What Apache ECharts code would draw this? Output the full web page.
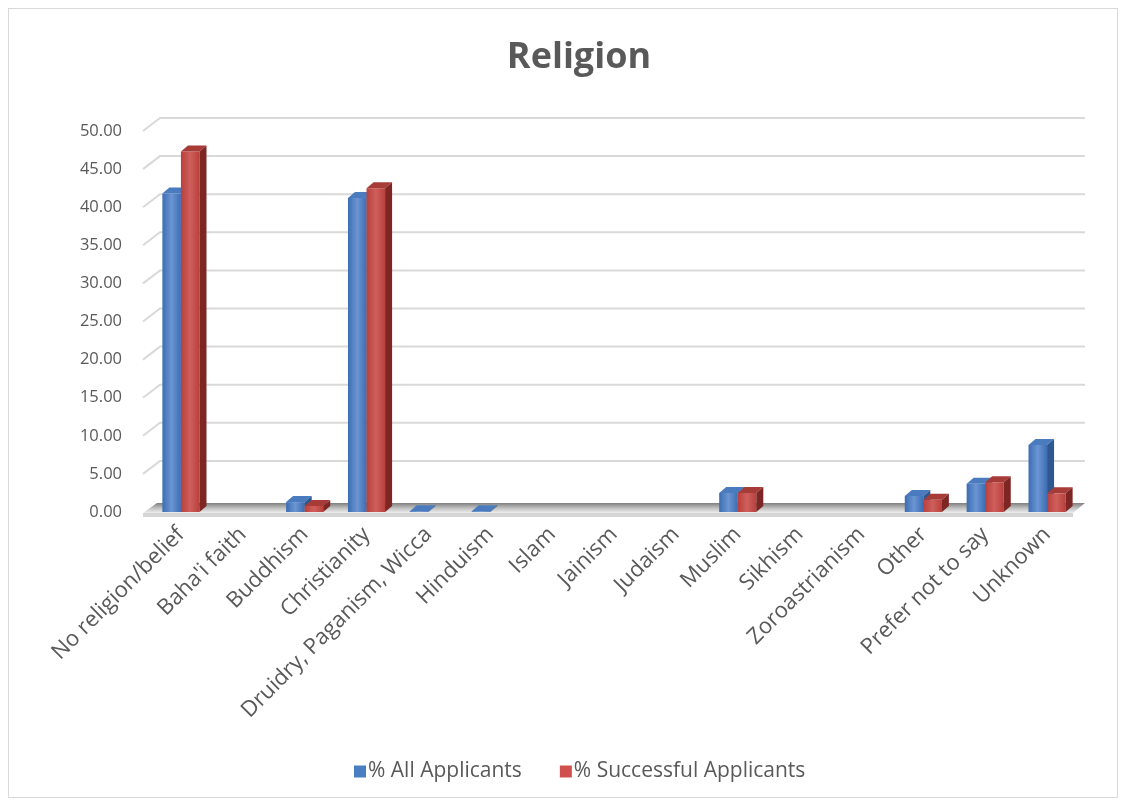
<!DOCTYPE html>
<html>
<head>
<meta charset="utf-8">
<script src="https://cdn.jsdelivr.net/npm/echarts@6/dist/echarts.min.js"></script>
<style>
html,body{margin:0;padding:0;background:#fff;}
#wrap{position:absolute;left:8px;top:8px;width:1110px;height:790px;border:1px solid #D9D9D9;box-sizing:border-box;}
#chart{position:absolute;left:0;top:0;width:1126px;height:806px;}
</style>
</head>
<body>
<div id="wrap"></div>
<div id="chart"></div>
<script>
const categories = ["No religion/belief","Baha'i faith","Buddhism","Christianity","Druidry, Paganism, Wicca","Hinduism","Islam","Jainism","Judaism","Muslim","Sikhism","Zoroastrianism","Other","Prefer not to say","Unknown"];
const allApplicants = [41.8, 0, 1.3, 41.2, 0.1, 0.1, 0, 0, 0, 2.5, 0, 0, 2.1, 3.7, 8.8];
const successfulApplicants = [47.3, 0, 0.8, 42.5, 0, 0, 0, 0, 0, 2.5, 0, 0, 1.6, 3.9, 2.45];
const yTicks = {min: 0, max: 50, interval: 5};
const gridTickValues = [5, 10, 15, 20, 25, 30, 35, 40, 45, 50];
const seriesNames = ["% All Applicants", "% Successful Applicants"];

const palette = [
  {front: ['#6B95D2', '#3C6DB3'], top: '#4A7BBE', side: '#2E5890', legend: '#4A7EC2'},
  {front: ['#CF5F5C', '#B8403C'], top: '#A63B38', side: '#7E2623', legend: '#D0504D'}
];
const DX = 7, DY = -6;

function makeRender(si) {
  return function (params, api) {
    const idx = api.value(0), v = api.value(1);
    if (!(v > 0)) return null;
    const base = api.coord([idx, 0]);
    const top = api.coord([idx, v]);
    const band = api.size([1, 0])[0];
    const w = band * 0.3;
    const x0 = base[0] + (si === 0 ? -w : 0);
    const h = base[1] - top[1];
    const c = palette[si];
    return {
      type: 'group',
      children: [
        {type: 'rect', shape: {x: x0, y: top[1], width: w, height: h},
          style: {fill: new echarts.graphic.LinearGradient(0, 0, 1, 0, [
            {offset: 0, color: c.front[1]}, {offset: 0.5, color: c.front[0]}, {offset: 1, color: c.front[1]}])}},
        {type: 'polygon', shape: {points: [[x0, top[1]], [x0 + DX, top[1] + DY], [x0 + w + DX, top[1] + DY], [x0 + w, top[1]]]},
          style: {fill: c.top}},
        {type: 'polygon', shape: {points: [[x0 + w, top[1]], [x0 + w + DX, top[1] + DY], [x0 + w + DX, base[1] + DY], [x0 + w, base[1]]]},
          style: {fill: c.side}}
      ]
    };
  };
}

function plotEdges(api, v) {
  const band = api.size([1, 0])[0];
  const a = api.coord([0, v]);
  const b = api.coord([categories.length - 1, v]);
  return {xl: a[0] - band / 2, xr: b[0] + band / 2, y: a[1]};
}

function gridRender(params, api) {
  const e = plotEdges(api, api.value(0));
  return {
    type: 'polyline',
    shape: {points: [[e.xl - 7, e.y], [e.xl + 10, e.y - 13], [e.xr + 7, e.y - 13]]},
    style: {stroke: '#D9D9D9', lineWidth: 2, fill: null}
  };
}

function floorRender(params, api) {
  const e = plotEdges(api, 0);
  const y = e.y;
  return {
    type: 'group',
    children: [
      {type: 'polygon', shape: {points: [[e.xl - 7, y + 1], [e.xl + 7, y - 9], [e.xr + 7, y - 9], [e.xr - 5, y + 1]]},
        style: {fill: new echarts.graphic.LinearGradient(0, 0, 0, 1, [
          {offset: 0, color: '#7F7F7F'}, {offset: 0.5, color: '#BFBFBF'}, {offset: 1, color: '#EEEEEE'}])}},
      {type: 'polygon', shape: {points: [[e.xl - 7, y + 1], [e.xr - 5, y + 1], [e.xr - 5, y + 5], [e.xl - 7, y + 5]]},
        style: {fill: '#D6D6D6'}}
    ]
  };
}

const chart = echarts.init(document.getElementById('chart'));
chart.setOption({
  backgroundColor: 'transparent',
  animation: false,
  title: {
    text: 'Religion', left: 574, top: 35, textAlign: 'center',
    textStyle: {fontSize: 36, fontWeight: 'bold', color: '#595959', fontFamily: 'Open Sans'}
  },
  legend: {
    data: [{name: seriesNames[0], itemStyle: {color: palette[0].legend}}, {name: seriesNames[1], itemStyle: {color: palette[1].legend}}],
    bottom: 19, left: 349, icon: 'rect', itemWidth: 12, itemHeight: 12, itemGap: 38,
    textStyle: {fontSize: 21, color: '#595959', fontFamily: 'Open Sans', padding: [0, 0, 0, -3]}
  },
  grid: {left: 150, right: 48, top: 131, bottom: 294, containLabel: false},
  xAxis: {
    type: 'category', data: categories,
    axisLine: {show: false}, axisTick: {show: false},
    axisLabel: {interval: 0, rotate: 45, fontSize: 22, color: '#595959', fontFamily: 'Open Sans', margin: 19}
  },
  yAxis: {
    type: 'value', min: yTicks.min, max: yTicks.max, interval: yTicks.interval,
    axisLine: {show: false}, axisTick: {show: false},
    axisLabel: {fontSize: 16.5, color: '#595959', fontFamily: 'Open Sans', margin: 28, formatter: v => v.toFixed(2)},
    splitLine: {show: false}
  },
  series: [
    {type: 'custom', name: 'grid', renderItem: gridRender, data: gridTickValues.map(v => [v]), silent: true, z: 1},
    {type: 'custom', name: 'floor', renderItem: floorRender, data: [[0, 0]], silent: true, z: 2},
    {type: 'custom', name: seriesNames[0], renderItem: makeRender(0), itemStyle: {color: palette[0].legend},
      data: allApplicants.map((v, i) => [i, v]), z: 3},
    {type: 'custom', name: seriesNames[1], renderItem: makeRender(1), itemStyle: {color: palette[1].legend},
      data: successfulApplicants.map((v, i) => [i, v]), z: 4}
  ]
});
</script>
</body>
</html>
